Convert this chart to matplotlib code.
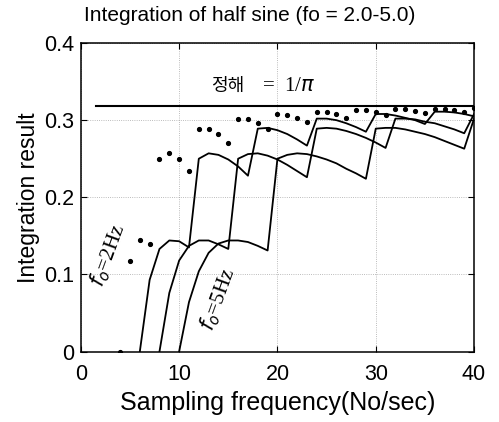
import matplotlib.pyplot as plt
import numpy as np

# sampling frequency (No/sec), one point per integer
fs_2 = list(range(4, 41))
fs_3 = list(range(6, 41))
fs_4 = list(range(8, 41))
fs_5 = list(range(10, 41))

# fo = 2 Hz (dots)
res_2 = [0.0, 0.118, 0.144, 0.139, 0.250, 0.257, 0.249, 0.234, 0.289, 0.289,
         0.282, 0.271, 0.302, 0.301, 0.296, 0.288, 0.308, 0.307, 0.303, 0.298,
         0.311, 0.310, 0.308, 0.303, 0.313, 0.313, 0.310, 0.307, 0.314, 0.314,
         0.312, 0.309, 0.315, 0.315, 0.313, 0.311, 0.316]
# fo = 3 Hz
res_3 = [0.0, 0.093, 0.133, 0.144, 0.143, 0.135, 0.250, 0.257, 0.255, 0.249,
         0.240, 0.228, 0.289, 0.290, 0.287, 0.282, 0.275, 0.267, 0.302, 0.302,
         0.300, 0.296, 0.291, 0.285, 0.308, 0.308, 0.306, 0.303, 0.300, 0.295,
         0.311, 0.311, 0.310, 0.308, 0.305]
# fo = 4 Hz
res_4 = [0.0, 0.076, 0.118, 0.137, 0.144, 0.144, 0.139, 0.133, 0.250, 0.256,
         0.257, 0.254, 0.249, 0.242, 0.234, 0.226, 0.289, 0.290, 0.289, 0.286,
         0.282, 0.277, 0.271, 0.264, 0.302, 0.302, 0.301, 0.298, 0.296, 0.292,
         0.288, 0.283, 0.308]
# fo = 5 Hz
res_5 = [0.0, 0.064, 0.104, 0.128, 0.140, 0.144, 0.144, 0.142, 0.137, 0.131,
         0.250, 0.255, 0.257, 0.256, 0.253, 0.249, 0.244, 0.237, 0.231, 0.224,
         0.289, 0.290, 0.290, 0.288, 0.285, 0.282, 0.278, 0.273, 0.268, 0.263,
         0.302]

exact = 1 / np.pi

fig = plt.figure(figsize=(4.99, 4.22), dpi=100)
ax = fig.add_axes([0.162, 0.167, 0.788, 0.731])

ax.plot(fs_3, res_3, color="black", lw=1.3)
ax.plot(fs_4, res_4, color="black", lw=1.3)
ax.plot(fs_5, res_5, color="black", lw=1.3)
ax.plot(fs_2, res_2, ".", color="black", markersize=5.5)

ax.plot([1.5, 40], [exact, exact], color="black", lw=1.5)

ax.text(13.2, 0.344, "정해", fontsize=13, va="center",
        family=["Noto Sans CJK KR", "DejaVu Sans"])
ax.text(18.4, 0.344, r"=  1/$\pi$", fontsize=15, va="center",
        family="Liberation Serif")
ax.text(2.8, 0.125, r"$f_o$=2Hz", fontsize=15, rotation=70,
        ha="center", va="center", family="Liberation Serif")
ax.text(14.0, 0.068, r"$f_o$=5Hz", fontsize=15, rotation=70,
        ha="center", va="center", family="Liberation Serif")

ax.set_xlim(0, 40)
ax.set_ylim(0, 0.4)
ax.set_xticks([0, 10, 20, 30, 40])
ax.set_yticks([0, 0.1, 0.2, 0.3, 0.4])
ax.set_yticklabels(["0", "0.1", "0.2", "0.3", "0.4"])
ax.tick_params(direction="in", top=True, right=True, labelsize=15.5, length=4)
ax.tick_params(axis="x", pad=9)
ax.tick_params(axis="y", pad=5)
ax.grid(True, linestyle=":", color="gray", lw=0.6, alpha=0.7)
for s in ax.spines.values():
    s.set_linewidth(1.1)

ax.set_xlabel("Sampling frequency(No/sec)", fontsize=18, labelpad=4)
ax.set_ylabel("Integration result", fontsize=16.5, labelpad=3)
fig.suptitle("Integration of half sine (fo = 2.0-5.0)", fontsize=15, x=0.5, y=0.985)

for t in ax.get_xticklabels() + ax.get_yticklabels():
    t.set_family("Liberation Sans")
ax.xaxis.label.set_family("Liberation Sans")
ax.yaxis.label.set_family("Liberation Sans")
fig._suptitle.set_family("Liberation Sans")

fig.savefig("out.png", dpi=100)
